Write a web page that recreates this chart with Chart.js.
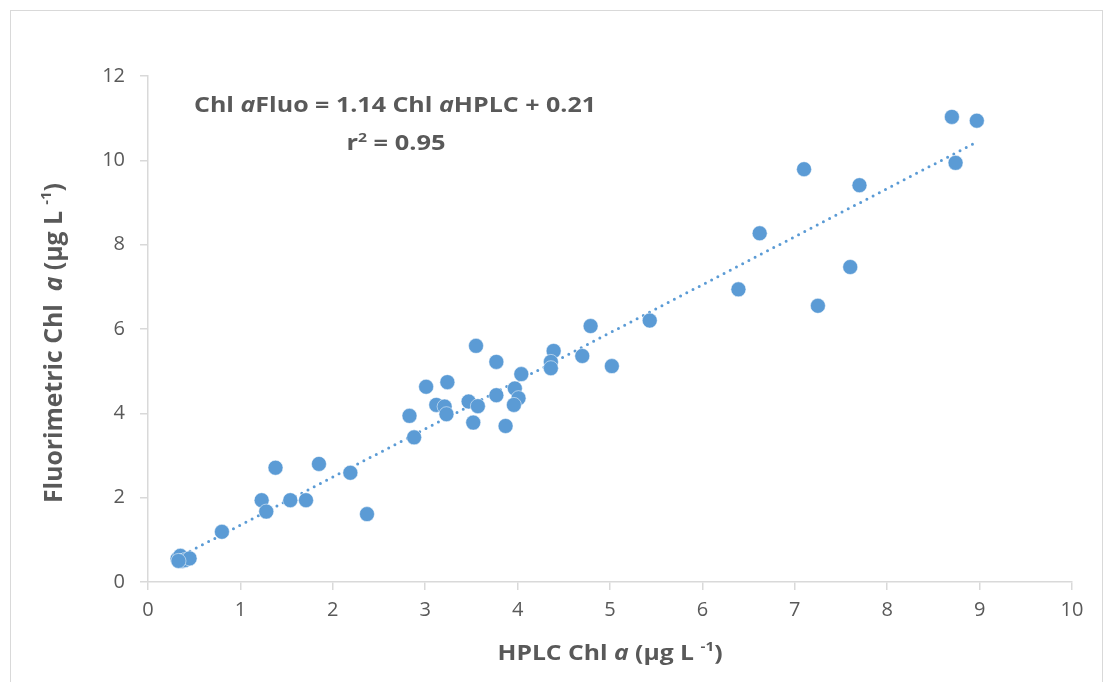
<!DOCTYPE html>
<html>
<head>
<meta charset="utf-8">
<script src="https://cdn.jsdelivr.net/npm/chart.js@4"></script>
<style>
  html, body { margin: 0; padding: 0; background: #fff; }
  #wrap { width: 1113px; height: 682px; }
</style>
</head>
<body>
<div id="wrap"><canvas id="chart" width="1113" height="682"></canvas></div>
<script>
// HPLC Chl a (x) vs fluorimetric Chl a (y)
const hplc = [0.32, 0.35, 0.37, 0.40, 0.45, 0.33,
  0.80, 1.23, 1.28, 1.38, 1.54, 1.71, 1.85, 2.19, 2.37,
  2.83, 2.88, 3.01, 3.12, 3.21, 3.23, 3.24, 3.47, 3.52, 3.55, 3.57,
  3.77, 3.77, 3.87, 3.97, 4.01, 3.96, 4.04, 4.39, 4.36, 4.36, 4.70, 4.79, 5.02,
  5.43, 6.39, 6.62, 7.10, 7.25, 7.60, 7.70, 8.70, 8.74, 8.97];
const fluo = [0.55, 0.62, 0.50, 0.52, 0.56, 0.50,
  1.19, 1.94, 1.67, 2.71, 1.94, 1.94, 2.80, 2.59, 1.61,
  3.94, 3.43, 4.63, 4.20, 4.16, 3.98, 4.74, 4.28, 3.78, 5.60, 4.17,
  5.22, 4.43, 3.70, 4.59, 4.36, 4.20, 4.93, 5.48, 5.22, 5.07, 5.36, 6.07, 5.12,
  6.20, 6.94, 8.27, 9.79, 6.55, 7.47, 9.41, 11.03, 9.94, 10.94];

// linear fit shown on the chart
const fitSlope = 1.14;
const fitIntercept = 0.21;

const xTicks = [0, 1, 2, 3, 4, 5, 6, 7, 8, 9, 10];
const yTicks = [0, 2, 4, 6, 8, 10, 12];

const blue = '#5B9BD5';
const grey = '#595959';
const axisGrey = '#D9D9D9';

const points = hplc.map((x, i) => ({ x: x, y: fluo[i] }));
const xMin = Math.min(...hplc), xMax = Math.max(...hplc);
const trend = [xMin, xMax].map(x => ({ x: x, y: fitSlope * x + fitIntercept }));

// draw text runs (mixed fonts) centred on cx, squeezed/stretched to width w
function drawRuns(ctx, runs, cx, y, w) {
  let total = 0;
  runs.forEach(r => { ctx.font = r.font; r.w = ctx.measureText(r.text).width; total += r.w; });
  ctx.save();
  ctx.translate(cx - w / 2, y);
  ctx.scale(w / total, 1);
  let x = 0;
  runs.forEach(r => {
    ctx.font = r.font;
    ctx.fillText(r.text, x, r.dy || 0);
    x += r.w;
  });
  ctx.restore();
}

const labels = {
  id: 'labels',
  beforeDraw(chart) {
    const ctx = chart.ctx;
    ctx.save();
    ctx.strokeStyle = axisGrey;
    ctx.lineWidth = 1;
    ctx.strokeRect(10.5, 10.5, 1092, 690);
    ctx.restore();
  },
  afterDraw(chart) {
    const ctx = chart.ctx;
    ctx.save();
    ctx.fillStyle = grey;
    ctx.textAlign = 'left';
    ctx.textBaseline = 'alphabetic';

    const b = 'bold 21px "Open Sans"';
    const bi = 'italic bold 21px "Open Sans"';
    const sup = 'bold 13px "Open Sans"';
    drawRuns(ctx, [
      { text: 'Chl ', font: b }, { text: 'a', font: bi },
      { text: 'Fluo = 1.14 Chl ', font: b }, { text: 'a', font: bi },
      { text: 'HPLC + 0.21', font: b }
    ], 395, 112, 402);
    drawRuns(ctx, [
      { text: 'r', font: b }, { text: '2', font: sup, dy: -8 },
      { text: ' = 0.95', font: b }
    ], 396, 150, 99);

    // x axis title
    drawRuns(ctx, [
      { text: 'HPLC Chl ', font: b },
      { text: 'a', font: bi },
      { text: ' (µg L ', font: b },
      { text: '-1', font: sup, dy: -9 },
      { text: ')', font: b }
    ], 610, 660, 225);

    // y axis title
    ctx.translate(62, 343);
    ctx.rotate(-Math.PI / 2);
    drawRuns(ctx, [
      { text: 'Fluorimetric Chl  ', font: 'bold 25px "Open Sans"' },
      { text: 'a', font: 'italic bold 25px "Open Sans"' },
      { text: ' (µg L ', font: 'bold 25px "Open Sans"' },
      { text: '-1', font: 'bold 15px "Open Sans"', dy: -11 },
      { text: ')', font: 'bold 25px "Open Sans"' }
    ], 0, 0, 320);
    ctx.restore();
  }
};

new Chart(document.getElementById('chart').getContext('2d'), {
  type: 'scatter',
  data: {
    datasets: [
      {
        label: 'Chl a',
        data: points,
        backgroundColor: blue,
        borderColor: '#FFFFFF',
        borderWidth: 0.5,
        pointRadius: 7.5,
        order: 1
      },
      {
        type: 'line',
        label: 'Linear',
        data: trend,
        borderColor: blue,
        borderWidth: 3,
        borderDash: [0, 7],
        borderCapStyle: 'round',
        pointRadius: 0,
        fill: false,
        order: 2
      }
    ]
  },
  plugins: [labels],
  options: {
    responsive: false,
    animation: false,
    layout: { padding: { left: 0, right: 41, top: 76, bottom: 0 } },
    plugins: { legend: { display: false }, tooltip: { enabled: false } },
    scales: {
      x: {
        type: 'linear',
        min: 0, max: 10,
        afterBuildTicks: s => { s.ticks = xTicks.map(v => ({ value: v })); },
        afterFit: s => { s.height = 100; },
        border: { color: axisGrey, width: 1.5 },
        grid: { drawOnChartArea: false, drawTicks: true, tickLength: 8, color: axisGrey, lineWidth: 1.5 },
        ticks: { color: grey, font: { family: 'Open Sans', size: 20 }, padding: 8, maxRotation: 0 }
      },
      y: {
        type: 'linear',
        min: 0, max: 12,
        afterBuildTicks: s => { s.ticks = yTicks.map(v => ({ value: v })); },
        afterFit: s => { s.width = 148; },
        border: { color: axisGrey, width: 1.5 },
        grid: { drawOnChartArea: false, drawTicks: true, tickLength: 8, color: axisGrey, lineWidth: 1.5 },
        ticks: { color: grey, font: { family: 'Open Sans', size: 20 }, padding: 15 }
      }
    }
  }
});
</script>
</body>
</html>
